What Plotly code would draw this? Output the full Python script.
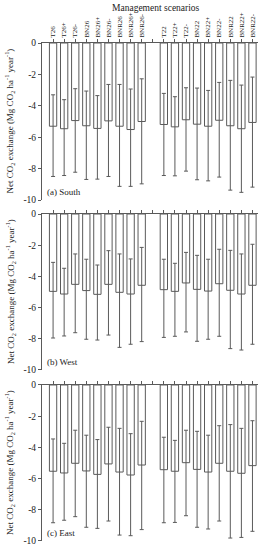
import plotly.graph_objects as go

# ---- data ----
categories = ["T26", "T26+", "T26-", "BN26", "BN26+", "BN26-", "BNR26", "BNR26+", "BNR26-",
              "",
              "T22", "T22+", "T22-", "BN22", "BN22+", "BN22-", "BNR22", "BNR22+", "BNR22-"]

# mean (bar end), upper whisker end, lower whisker end; None for the empty gap slot
south_mean = [-5.30, -5.46, -4.94, -5.27, -5.44, -4.96, -5.30, -5.51, -5.00, None,
              -5.19, -5.34, -4.89, -5.17, -5.30, -4.92, -5.27, -5.46, -5.06]
south_upper = [-3.30, -3.61, -2.91, -3.06, -3.35, -2.64, -2.64, -2.93, -2.28, None,
               -3.21, -3.42, -2.85, -2.87, -3.02, -2.51, -2.38, -2.68, -2.17]
south_lower = [-8.50, -8.44, -8.23, -8.69, -8.67, -8.50, -9.13, -9.13, -8.97, None,
               -8.44, -8.46, -8.16, -8.71, -8.78, -8.54, -9.37, -9.51, -9.18]

west_mean = [-4.96, -5.13, -4.51, -4.91, -5.15, -4.51, -5.02, -5.13, -4.57, None,
             -4.85, -4.96, -4.42, -4.83, -4.94, -4.47, -4.89, -5.13, -4.57]
west_upper = [-3.10, -3.48, -2.56, -2.90, -3.27, -2.35, -2.56, -2.88, -2.14, None,
              -2.90, -3.16, -2.46, -2.65, -2.90, -2.26, -2.33, -2.56, -1.94]
west_lower = [-7.95, -7.82, -7.61, -8.03, -8.08, -7.76, -8.55, -8.35, -8.18, None,
              -7.91, -7.84, -7.56, -8.16, -8.03, -7.84, -8.63, -8.72, -8.35]

east_mean = [-5.53, -5.64, -5.02, -5.51, -5.73, -5.06, -5.58, -5.77, -5.13, None,
             -5.43, -5.53, -4.98, -5.41, -5.58, -5.02, -5.53, -5.66, -5.17]
east_upper = [-3.46, -3.74, -2.90, -3.22, -3.50, -2.71, -2.78, -3.12, -2.33, None,
              -3.35, -3.55, -2.90, -2.97, -3.22, -2.61, -2.54, -2.78, -2.29]
east_lower = [-8.83, -8.67, -8.44, -9.12, -9.19, -8.72, -9.62, -9.66, -9.27, None,
              -8.83, -8.81, -8.38, -9.12, -9.23, -8.72, -9.81, -9.77, -9.38]

panel_labels = ["(a) South", "(b) West", "(c) East"]
y_ticks = [0, -2, -4, -6, -8, -10]

FONT = "Liberation Serif"
LINE = "#5a5a5a"

panels = [(south_mean, south_upper, south_lower),
          (west_mean, west_upper, west_lower),
          (east_mean, east_upper, east_lower)]

domains = [[0.6847, 1.0], [0.3434, 0.6566], [0.0, 0.3133]]
xpos = list(range(len(categories)))

fig = go.Figure()
for i, (m, up, lo) in enumerate(panels):
    plus = [(u - v) if v is not None else None for u, v in zip(up, m)]
    minus = [(v - l) if v is not None else None for v, l in zip(m, lo)]
    sfx = "" if i == 0 else str(i + 1)
    fig.add_trace(go.Bar(
        x=xpos, y=m, width=0.66,
        marker=dict(color="white", line=dict(color=LINE, width=1)),
        error_y=dict(type="data", symmetric=False, array=plus, arrayminus=minus,
                     color=LINE, thickness=1, width=2),
        xaxis="x" + sfx, yaxis="y" + sfx, showlegend=False, hoverinfo="skip",
    ))

layout = dict(
    width=267, height=550,
    margin=dict(l=42, r=9, t=43, b=9),
    plot_bgcolor="white", paper_bgcolor="white",
    font=dict(family=FONT, size=9, color="#222"),
    showlegend=False,
)
for i in range(3):
    sfx = "" if i == 0 else str(i + 1)
    layout["xaxis" + sfx] = dict(
        domain=[0, 1], anchor="y" + sfx, side="top", automargin=False,
        range=[-1, 18.5], tickmode="array", tickvals=xpos,
        ticktext=categories if i == 0 else [" "] * len(categories),
        showticklabels=(i == 0), tickangle=-90, tickfont=dict(size=7, family=FONT),
        ticks="outside", ticklen=3, tickcolor=LINE, showline=True, linecolor=LINE,
        linewidth=1, showgrid=False, zeroline=False, fixedrange=True,
    )
    layout["yaxis" + sfx] = dict(
        domain=domains[i], anchor="x" + sfx, range=[-10, 0], automargin=False,
        tickmode="array", tickvals=y_ticks, ticktext=[str(t) for t in y_ticks],
        ticks="outside", ticklen=3, tickcolor=LINE, showline=True, linecolor=LINE,
        linewidth=1, showgrid=False, zeroline=False, tickfont=dict(size=9.5, family=FONT),
        fixedrange=True,
    )
fig.update_layout(**layout)

ytitle = "Net CO<sub>2</sub> exchange (Mg CO<sub>2</sub> ha<sup>-1</sup> year<sup>-1</sup>)"
for i in range(3):
    sfx = "" if i == 0 else str(i + 1)
    d = domains[i]
    fig.add_annotation(text=ytitle, xref="paper", yref="paper", x=0, y=(d[0] + d[1]) / 2,
                       xanchor="center", yanchor="middle", xshift=-32, textangle=-90,
                       showarrow=False, font=dict(size=9, family=FONT, color="#222"))
    fig.add_annotation(text=panel_labels[i], xref="x" + sfx + " domain", yref="y" + sfx + " domain",
                       x=0.015, y=0.0, xanchor="left", yanchor="bottom", yshift=1,
                       showarrow=False, font=dict(size=9, family=FONT, color="#222"))

fig.add_annotation(text="Management scenarios", xref="paper", yref="paper", x=0.528, y=1.07,
                   xanchor="center", yanchor="middle", showarrow=False,
                   font=dict(size=9.5, family=FONT, color="#222"))

fig.write_html("out.html", config={"displayModeBar": False},
               post_script="document.body.style.margin='0';document.body.style.overflow='hidden';")
